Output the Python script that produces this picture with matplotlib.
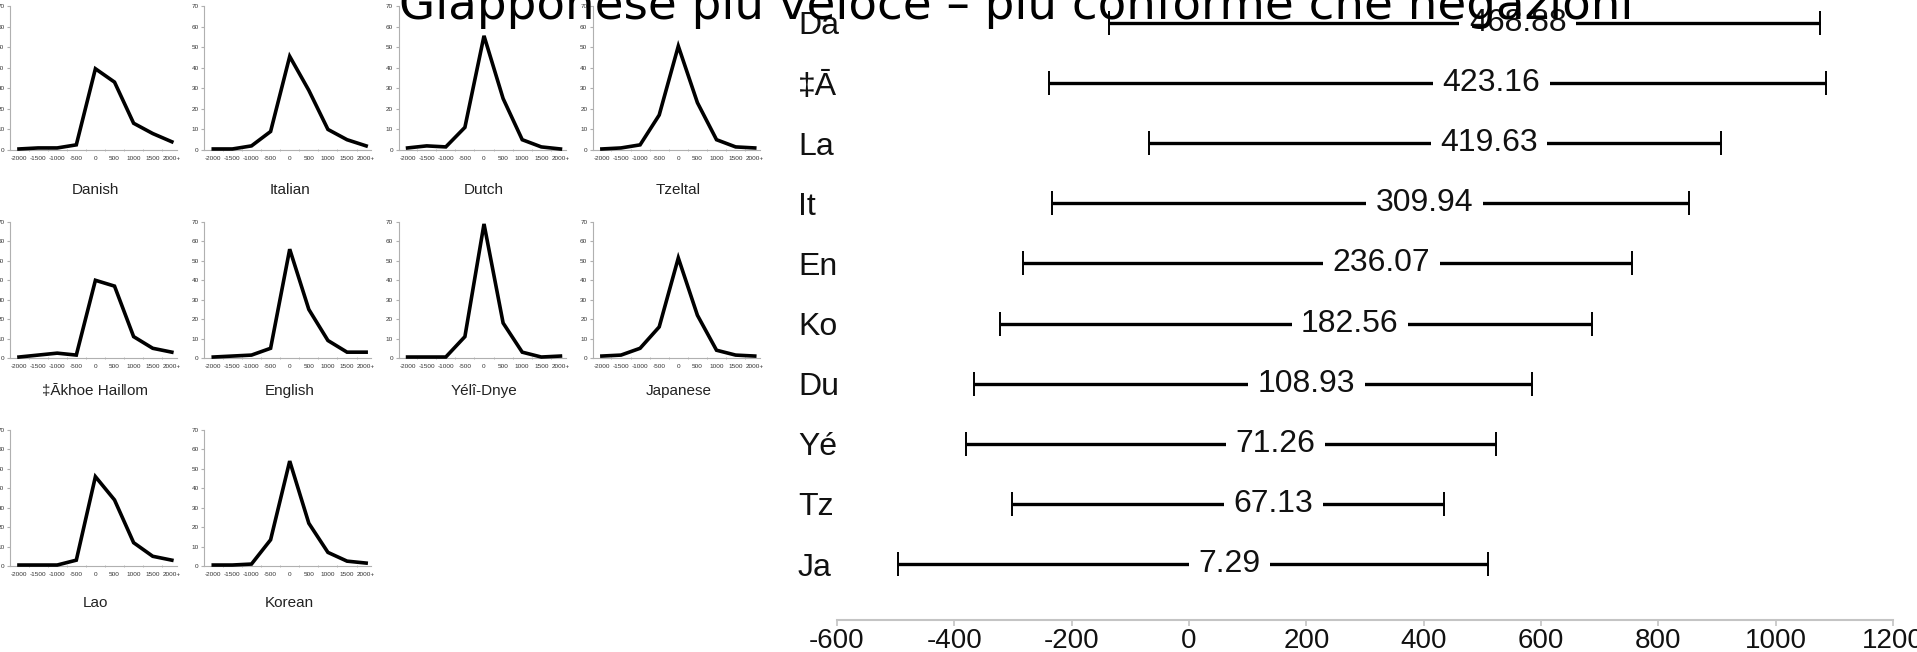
import matplotlib
matplotlib.use("Agg")
import matplotlib.pyplot as plt
import matplotlib.transforms as mtransforms
import numpy as np
import logging
logging.getLogger("matplotlib.font_manager").setLevel(logging.ERROR)

W, H, DPI = 1917, 652, 100

# ---------------- data: small multiples ----------------
bins = ["-2000", "-1500", "-1000", "-500", "0", "500", "1000", "1500", "2000+"]
panel_names = ["Danish", "Italian", "Dutch", "Tzeltal",
               "\u2021\u0100khoe Hai\u01c1om", "English", "Y\u00e9l\u00ee-Dnye", "Japanese",
               "Lao", "Korean"]
danish   = [0.5, 1.0, 1.0, 2.5, 39.5, 33.0, 13.0, 8.0, 4.0]
italian  = [0.5, 0.5, 2.0, 9.0, 45.5, 29.0, 10.0, 5.0, 2.0]
dutch    = [1.0, 2.0, 1.5, 11.0, 55.5, 25.0, 5.0, 1.5, 0.5]
tzeltal  = [0.5, 1.0, 2.5, 17.0, 50.5, 23.0, 5.0, 1.5, 1.0]
akhoe    = [0.5, 1.5, 2.5, 1.5, 40.0, 37.0, 11.0, 5.0, 3.0]
english  = [0.5, 1.0, 1.5, 5.0, 56.0, 25.0, 9.0, 3.0, 3.0]
yeli     = [0.5, 0.5, 0.5, 11.0, 69.0, 18.0, 3.0, 0.5, 1.0]
japanese = [1.0, 1.5, 5.0, 16.0, 51.5, 22.0, 4.0, 1.5, 1.0]
lao      = [0.5, 0.5, 0.5, 3.0, 46.0, 34.0, 12.0, 5.0, 3.0]
korean   = [0.5, 0.5, 1.0, 13.5, 54.0, 22.0, 7.0, 2.5, 1.5]
small_yticks = [0, 10, 20, 30, 40, 50, 60, 70]

# ---------------- data: interval chart ----------------
codes = ["Da", "\u2021\u0100", "La", "It", "En", "Ko", "Du", "Y\u00e9", "Tz", "Ja"]
means = [468.88, 423.16, 419.63, 309.94, 236.07, 182.56, 108.93, 71.26, 67.13, 7.29]
half_widths = [606, 662, 487, 543, 519, 505, 475, 452, 368, 503]
ci_xticks = [-600, -400, -200, 0, 200, 400, 600, 800, 1000, 1200]

title = "Giapponese pi\u00f9 veloce \u2013 pi\u00f9 conforme che negazioni"

NARROW = ["Liberation Sans Narrow", "Liberation Sans", "DejaVu Sans"]
SANS = ["Liberation Sans", "DejaVu Sans"]

fig = plt.figure(figsize=(W / DPI, H / DPI), dpi=DPI)
fig.patch.set_facecolor("white")

# ---------------- small multiples ----------------
series = [danish, italian, dutch, tzeltal, akhoe, english, yeli, japanese, lao, korean]
XMIN, XMAX = -0.47, 8.27
AX_W = 167
row_top = [6, 222, 430]
row_bot = [150, 358, 566]
title_y = [190, 391, 603]
for i, (name, vals) in enumerate(zip(panel_names, series)):
    r, c = divmod(i, 4)
    x_left = 10 + 194.3 * c
    ax = fig.add_axes([x_left / W, 1 - row_bot[r] / H, AX_W / W,
                       (row_bot[r] - row_top[r]) / H])
    ax.patch.set_visible(False)
    x = np.arange(len(bins))
    ax.plot(x, vals, color="black", lw=2.6, solid_joinstyle="miter", clip_on=False, zorder=3)
    ax.set_xlim(XMIN, XMAX)
    ax.set_ylim(0, 70)
    for s in ("top", "right"):
        ax.spines[s].set_visible(False)
    for s in ("left", "bottom"):
        ax.spines[s].set_color("#b0b0b0")
        ax.spines[s].set_linewidth(0.8)
    ax.set_xticks(x)
    ax.set_xticklabels(bins, fontsize=4.6, family=NARROW, color="#333333")
    ax.set_xticks(x[:-1] + 0.5, minor=True)
    ax.set_yticks(small_yticks)
    ax.set_yticklabels([str(v) for v in small_yticks], fontsize=4.6, family=NARROW, color="#333333")
    ax.tick_params(axis="x", which="major", length=0, pad=4)
    ax.tick_params(axis="x", which="minor", length=2, color="#b0b0b0", direction="inout")
    ax.tick_params(axis="y", length=2, color="#b0b0b0", pad=2)
    cx = x_left + (4 - XMIN) / (XMAX - XMIN) * AX_W
    fig.text(cx / W, 1 - title_y[r] / H, name, ha="center", va="center",
             fontsize=11, family=NARROW, color="#222222")

# ---------------- interval chart ----------------
AX_L, AX_R = 837, 1893
Y_AXIS = 620
ROW_TOP, ROW_BOT = 23, 564
n = len(codes)
spacing = (ROW_BOT - ROW_TOP) / (n - 1)
axr = fig.add_axes([AX_L / W, 1 - Y_AXIS / H, (AX_R - AX_L) / W, Y_AXIS / H])
axr.patch.set_visible(False)
ypos = np.arange(n)[::-1]
axr.errorbar(means, ypos, xerr=half_widths, fmt="none", ecolor="black",
             elinewidth=2.4, capsize=8.5, capthick=1.4, zorder=2)
label_tr = mtransforms.offset_copy(axr.transData, fig=fig, x=5, y=0, units="dots")
for m, yy in zip(means, ypos):
    axr.text(m, yy, f"{m:.2f}", ha="left", va="center", fontsize=23, family=SANS,
             color="#111111", zorder=3, transform=label_tr,
             bbox=dict(boxstyle="square,pad=0.3", fc="white", ec="none"))
axr.set_xlim(ci_xticks[0], ci_xticks[-1])
axr.set_ylim(-(Y_AXIS - ROW_BOT) / spacing, (n - 1) + ROW_TOP / spacing)
axr.set_yticks(ypos)
axr.set_yticklabels(codes, ha="left", fontsize=23, family=SANS, color="#111111")
axr.tick_params(axis="y", length=0, pad=(AX_L - 798) * 72 / DPI)
axr.set_xticks(ci_xticks)
axr.set_xticklabels([str(v) for v in ci_xticks], fontsize=20, family=SANS, color="#111111")
axr.tick_params(axis="x", direction="out", length=4.3, width=1.2, color="#c4c4c4", pad=1.5)
for s in ("top", "right", "left"):
    axr.spines[s].set_visible(False)
axr.spines["bottom"].set_color("#c4c4c4")
axr.spines["bottom"].set_linewidth(1.5)

# ---------------- cropped title ----------------
t = fig.text(1016 / W, 1 - 19 / H, title, ha="center", va="baseline",
             fontsize=32, family="DejaVu Sans", color="black", zorder=10)
fig.canvas.draw()
w = t.get_window_extent().width
t.set_fontsize(32 * 1233 / w)

fig.savefig("out.png", dpi=DPI, facecolor="white")
